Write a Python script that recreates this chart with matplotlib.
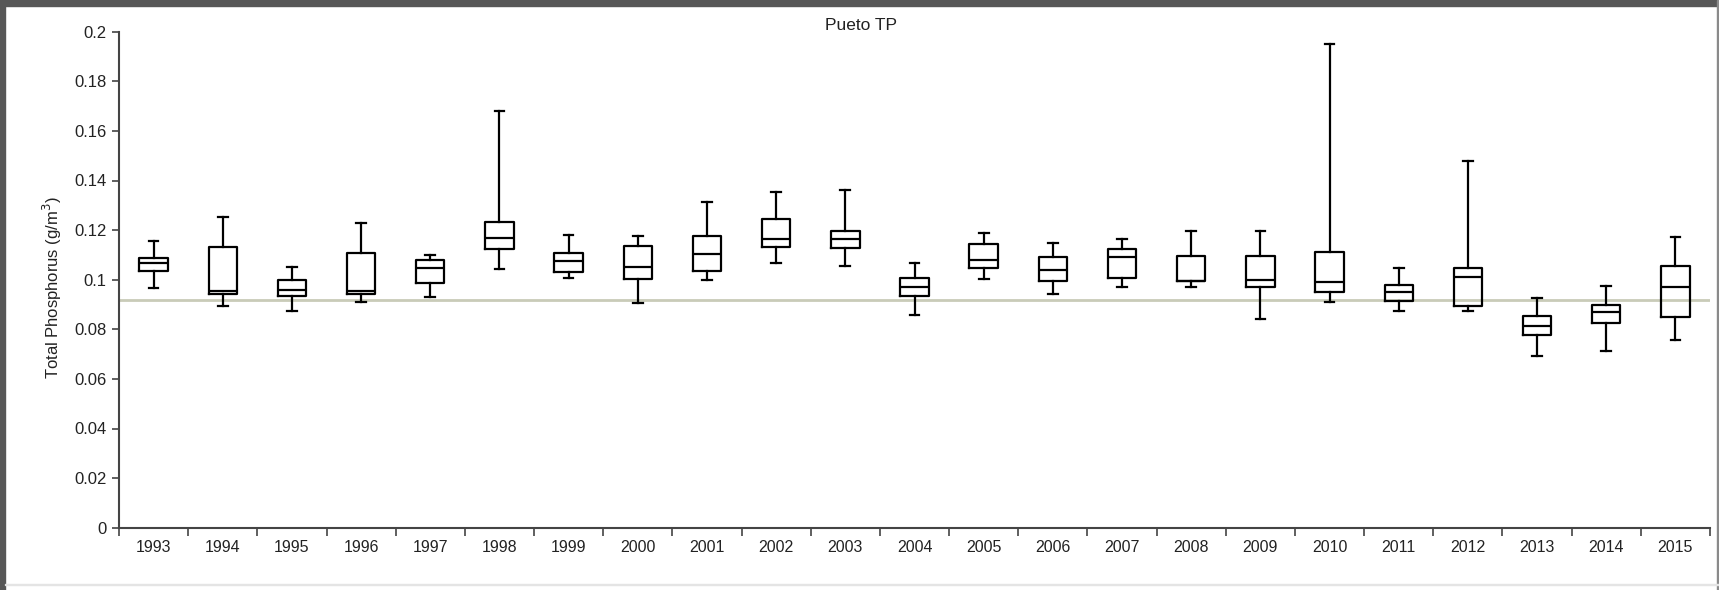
import matplotlib
matplotlib.use("Agg")
import matplotlib.pyplot as plt
from matplotlib.patches import Rectangle

# Box statistics per year (g/m3)
years = [str(y) for y in range(1993, 2016)]
whishi = [0.1157, 0.1254, 0.1052, 0.1227, 0.1101, 0.1680, 0.1180, 0.1176,
          0.1312, 0.1352, 0.1362, 0.1069, 0.1190, 0.1149, 0.1164, 0.1198,
          0.1198, 0.1949, 0.1046, 0.1480, 0.0926, 0.0976, 0.1173]
q3 = [0.1086, 0.1133, 0.0999, 0.1106, 0.1080, 0.1231, 0.1109, 0.1136,
      0.1176, 0.1245, 0.1196, 0.1006, 0.1143, 0.1093, 0.1125, 0.1096,
      0.1096, 0.1110, 0.0979, 0.1046, 0.0855, 0.0898, 0.1056]
med = [0.1066, 0.0956, 0.0957, 0.0956, 0.1049, 0.1170, 0.1075, 0.1050,
       0.1104, 0.1163, 0.1163, 0.0972, 0.1079, 0.1039, 0.1093, 0.0996,
       0.0999, 0.0992, 0.0949, 0.1010, 0.0815, 0.0871, 0.0972]
q1 = [0.1036, 0.0942, 0.0935, 0.0942, 0.0985, 0.1123, 0.1030, 0.1002,
      0.1036, 0.1133, 0.1129, 0.0935, 0.1046, 0.0996, 0.1006, 0.0996,
      0.0972, 0.0952, 0.0914, 0.0894, 0.0777, 0.0827, 0.0851]
whislo = [0.0968, 0.0895, 0.0873, 0.0909, 0.0931, 0.1042, 0.1008, 0.0905,
          0.1000, 0.1069, 0.1056, 0.0858, 0.1002, 0.0941, 0.0971, 0.0971,
          0.0842, 0.0909, 0.0873, 0.0873, 0.0692, 0.0713, 0.0755]
ref_level = 0.0918
yticks = [0, 0.02, 0.04, 0.06, 0.08, 0.1, 0.12, 0.14, 0.16, 0.18, 0.2]

plt.rcParams['font.family'] = ['Liberation Sans', 'DejaVu Sans']

W, H = 1719, 590
fig = plt.figure(figsize=(W / 100, H / 100), dpi=100)
ax = fig.add_axes([119 / W, 1 - 527.7 / H, (1710 - 119) / W, (527.7 - 31.7) / H])

stats = []
for i, y in enumerate(years):
    stats.append(dict(label=y, whislo=whislo[i], q1=q1[i], med=med[i],
                      q3=q3[i], whishi=whishi[i], fliers=[]))

ax.axhline(ref_level, color='#c9cbb8', lw=2.0, zorder=1)

lp = dict(color='black', linewidth=1.6)
ax.bxp(stats, positions=range(len(years)), widths=0.41, capwidths=0.14,
       showfliers=False, boxprops=lp, whiskerprops=lp, capprops=lp,
       medianprops=lp, manage_ticks=False, zorder=3)

ax.set_xlim(-0.5, len(years) - 0.5)
ax.set_ylim(0, 0.2)
ax.set_yticks(yticks)
ax.set_yticklabels(['0'] + ['%g' % v for v in yticks[1:]])
ax.set_xticks(range(len(years)))
ax.set_xticklabels(years)
ax.set_xticks([i - 0.5 for i in range(len(years) + 1)], minor=True)
ax.tick_params(axis='x', which='major', length=0, pad=9, labelsize=11.5,
               colors='#222222')
ax.tick_params(axis='x', which='minor', length=6, width=1.2, color='#444444')
ax.tick_params(axis='y', length=5, width=1.2, color='#444444', pad=4,
               labelsize=12, labelcolor='#222222')

for s in ['top', 'right']:
    ax.spines[s].set_visible(False)
for s in ['left', 'bottom']:
    ax.spines[s].set_color('#444444')
    ax.spines[s].set_linewidth(1.5)

fig.text(861 / W, 1 - 26 / H, 'Pueto TP', ha='center', va='center',
         fontsize=12.5, color='#222222')
fig.text(52 / W, 1 - 288 / H, 'Total Phosphorus (g/m$^3$)', rotation=90,
         ha='center', va='center', fontsize=12, color='#222222')

# dark frame around the screenshot
fig.patches.append(Rectangle((0, 1 - 6 / H), 1, 6 / H, transform=fig.transFigure,
                             color='#575757', zorder=0))
fig.patches.append(Rectangle((0, 0), 5 / W, 1, transform=fig.transFigure,
                             color='#575757', zorder=0))
fig.patches.append(Rectangle((1 - 2 / W, 0), 2 / W, 1, transform=fig.transFigure,
                             color='#8a8a8a', zorder=0))
fig.patches.append(Rectangle((5 / W, 1 - 585 / H), 1, 1.5 / H,
                             transform=fig.transFigure, color='#e4e4e4', zorder=0))

fig.savefig('out.png', dpi=100)
